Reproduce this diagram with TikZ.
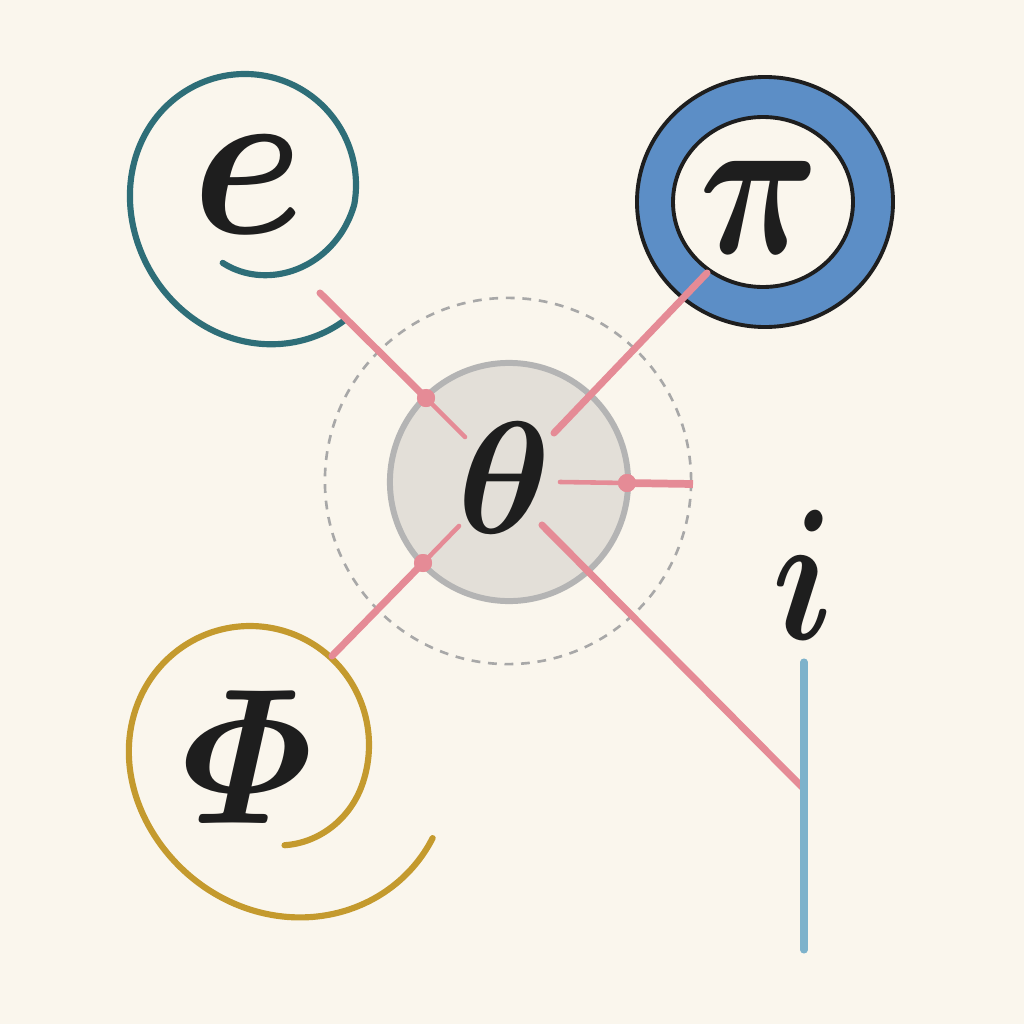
\documentclass[tikz,border=0pt]{standalone}
\usepackage{graphicx}
\usepackage{amsmath}
\definecolor{bgc}{RGB}{250,246,237}
\definecolor{tealc}{RGB}{46,110,120}
\definecolor{goldc}{RGB}{196,154,46}
\definecolor{piblue}{RGB}{92,142,198}
\definecolor{pinkc}{RGB}{229,139,150}
\definecolor{iblue}{RGB}{125,178,203}
\definecolor{thfill}{RGB}{227,223,216}
\definecolor{thline}{RGB}{180,180,180}
\definecolor{dashc}{RGB}{168,168,168}
\definecolor{ink}{RGB}{30,30,30}
\begin{document}
\begin{tikzpicture}[x=0.01cm,y=-0.01cm,
  spiral/.style={line width=1.75pt, line cap=round, line join=round},
  pinkline/.style={pinkc, line width=2pt, line cap=round},
  pinkthin/.style={pinkc, line width=1.3pt, line cap=round},
  pinkdot/.style={circle, fill=pinkc, inner sep=0pt, minimum size=0.18cm},
  letter/.style={text=ink, inner sep=0pt},
  thetacirc/.style={circle, draw=thline, fill=thfill, line width=1.7pt, minimum size=2.38cm, inner sep=0pt},
  dashcirc/.style={circle, draw=dashc, dashed, dash pattern=on 2.5pt off 2.2pt, line width=0.75pt, minimum size=3.66cm, inner sep=0pt},
  declare function={
    ue(\t)=min(4,(\t-54)/76);
    me(\t)=max(0,(\t-370)/96);
    re(\t)=111+57*exp(-ue(\t)*ue(\t))-30*(0.6*me(\t)+0.4*me(\t)*me(\t));
    up(\t)=min(4,(\t-27)/79);
    mp(\t)=max(0,(\t-380)/51);
    rp(\t)=119+86*exp(-up(\t)*up(\t))-13*mp(\t)*mp(\t);
  }
]
\fill[bgc] (0,0) rectangle (1024,1024);
\useasboundingbox (0,0) rectangle (1024,1024);

% dashed orbit
\node[dashcirc] (orbit) at (508,481) {};

% e spiral
\draw[spiral, tealc] plot[domain=54:466, samples=160, smooth, variable=\t]
  ({245+re(\t)*cos(\t)}, {185+re(\t)*sin(\t)});

% Phi spiral
\draw[spiral, goldc] plot[domain=27:431, samples=160, smooth, variable=\t]
  ({250+rp(\t)*cos(\t)}, {745+rp(\t)*sin(\t)});

% pi ring
\draw[line width=1.1pt, draw=ink, fill=piblue] (765,202) ellipse [x radius=128, y radius=125];
\draw[line width=1.1pt, draw=ink, fill=bgc] (763,202) ellipse [x radius=90, y radius=85];

% theta disc
\node[thetacirc] (thc) at (509,482) {};

% connector coordinates
\coordinate (eA) at (320,293);
\coordinate (eB) at (465,437);
\coordinate (piA) at (707,273);
\coordinate (piB) at (554,433);
\coordinate (rA) at (560,482);
\coordinate (rB) at (693,484);
\coordinate (phA) at (459,526);
\coordinate (phB) at (332,656);
\coordinate (iA) at (542,525);
\coordinate (iB) at (802,787);
\coordinate (iTop) at (804,662);
\coordinate (iBot) at (804,950);

% dots
\node[pinkdot] (d1) at (426,398) {};
\node[pinkdot] (d2) at (627,483) {};
\node[pinkdot] (d3) at (423,563) {};

% pink connectors
\draw[pinkline] (eA) -- (d1.center);
\draw[pinkthin] (d1.center) -- (eB);
\draw[pinkline] (piA) -- (piB);
\draw[pinkthin] (rA) -- (d2.center);
\draw[pinkc, line width=2.2pt] (d2.center) -- (rB);
\draw[pinkthin] (phA) -- (d3.center);
\draw[pinkline] (d3.center) -- (phB);
\draw[pinkline] (iA) -- (iB);
\node[pinkdot] at (d1) {};
\node[pinkdot] at (d2) {};
\node[pinkdot] at (d3) {};

% i line
\draw[iblue, line width=2pt, line cap=round] (iTop) -- (iBot);

% letters
\node[letter] (le) at (248,185) {\scalebox{5.75}[6.25]{\boldmath$e$}};
\node[letter] (lpi) at (760,207) {\scalebox{4.75}[5.9]{\boldmath$\pi$}};
\node[letter] (lth) at (504,478) {\scalebox{4.5}[4.55]{\boldmath$\theta$}};
\node[letter] (lphi) at (248,757) {\scalebox{4.9}[5.5]{\boldmath$\varPhi$}};
\node[letter] (li) at (803,575) {\scalebox{4.3}[5.3]{\boldmath$i$}};
\end{tikzpicture}
\end{document}
